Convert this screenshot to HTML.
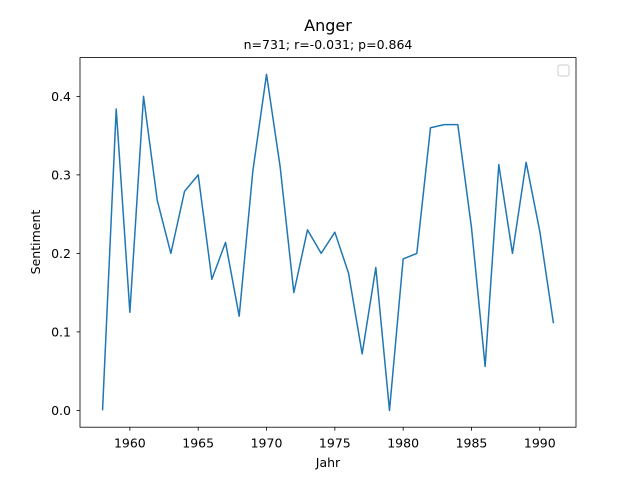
<!DOCTYPE html>
<html><head><meta charset="utf-8"><style>
body{margin:0;background:#fff;}
svg text{font-family:"DejaVu Sans","Liberation Sans",sans-serif;fill:#000;}
</style></head><body>
<svg id="chart" width="640" height="480" xmlns="http://www.w3.org/2000/svg">
<rect width="640" height="480" fill="#fff"/>
<text x="328" y="31" font-size="16" text-anchor="middle">Anger</text>
<text x="328" y="49" font-size="12.5" text-anchor="middle">n=731; r=-0.031; p=0.864</text>
<g id="xticks"></g><g id="yticks"></g>
<polyline id="line" fill="none" stroke="#1f77b4" stroke-width="1.5" stroke-linejoin="round"/>
<rect x="80" y="57.6" width="496" height="369.6" fill="none" stroke="#000" stroke-width="0.8"/>
<rect x="558" y="65" width="11" height="11" rx="2" fill="#fff" stroke="#ccc"/>
<text x="328" y="467" font-size="12.5" text-anchor="middle">Jahr</text>
<text x="40" y="242" font-size="12.5" text-anchor="middle" transform="rotate(-90 40 242)">Sentiment</text>
</svg>
<script>
const years=[1958,1959,1960,1961,1962,1963,1964,1965,1966,1967,1968,1969,1970,1971,1972,1973,1974,1975,1976,1977,1978,1979,1980,1981,1982,1983,1984,1985,1986,1987,1988,1989,1990,1991];
const values=[0.0,0.384,0.125,0.400,0.268,0.200,0.279,0.300,0.167,0.214,0.120,0.305,0.428,0.310,0.150,0.230,0.200,0.227,0.175,0.072,0.182,0.0,0.193,0.200,0.360,0.364,0.364,0.233,0.056,0.313,0.200,0.316,0.228,0.111];
const xTickLabels=[1960,1965,1970,1975,1980,1985,1990];
const yTickLabels=[0.0,0.1,0.2,0.3,0.4];
const NS="http://www.w3.org/2000/svg";
const L=80,R=576,T=57.6,B=427.2;
const xmin=Math.min(...years),xmax=Math.max(...years),xr=xmax-xmin;
const ymin=Math.min(...values),ymax=Math.max(...values),yr=ymax-ymin;
const x0=xmin-0.05*xr,x1=xmax+0.05*xr,y0=ymin-0.05*yr,y1=ymax+0.05*yr;
const sx=v=>L+(v-x0)/(x1-x0)*(R-L);
const sy=v=>B-(v-y0)/(y1-y0)*(B-T);
document.getElementById('line').setAttribute('points',years.map((y,i)=>sx(y)+','+sy(values[i])).join(' '));
const xg=document.getElementById('xticks'),yg=document.getElementById('yticks');
xTickLabels.forEach(t=>{
 const l=document.createElementNS(NS,'line');
 l.setAttribute('x1',sx(t));l.setAttribute('x2',sx(t));l.setAttribute('y1',B);l.setAttribute('y2',B+3.5);l.setAttribute('stroke','#000');l.setAttribute('stroke-width','0.8');
 
 
 xg.appendChild(l);
 const tx=document.createElementNS(NS,'text');
 tx.setAttribute('x',sx(t));tx.setAttribute('y',B+20.5);tx.setAttribute('font-size','12.5');tx.setAttribute('text-anchor','middle');tx.textContent=t;
 
 
 xg.appendChild(tx);
});
yTickLabels.forEach(t=>{
 const l=document.createElementNS(NS,'line');
 l.setAttribute('x1',L-3.5);l.setAttribute('x2',L);l.setAttribute('y1',sy(t));l.setAttribute('y2',sy(t));l.setAttribute('stroke','#000');l.setAttribute('stroke-width','0.8');
 
 
 yg.appendChild(l);
 const tx=document.createElementNS(NS,'text');
 tx.setAttribute('x',L-9);tx.setAttribute('y',sy(t)+4.5);tx.setAttribute('font-size','12.5');tx.setAttribute('text-anchor','end');tx.textContent=t.toFixed(1);
 
 
 yg.appendChild(tx);
});
</script>
</body></html>
